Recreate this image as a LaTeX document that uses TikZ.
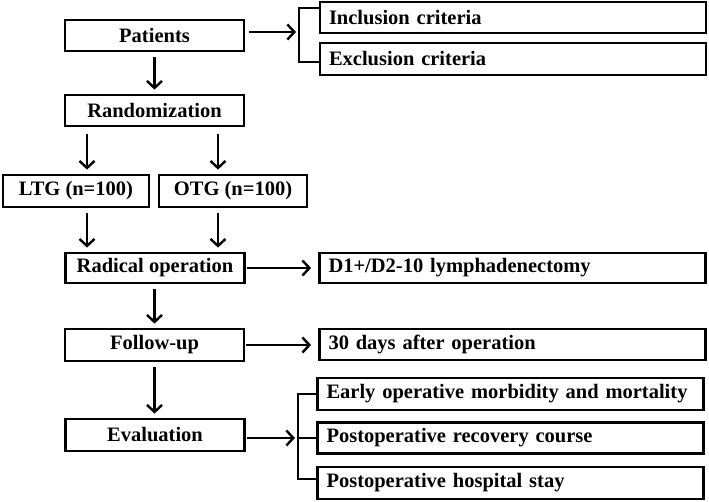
\documentclass[tikz,border=0pt]{standalone}
\usepackage{fontspec}
\setmainfont{Liberation Serif}
\usetikzlibrary{arrows.meta}
\begin{document}
\begin{tikzpicture}[x=1pt,y=-1pt,
  box/.style={draw, line width=2.8pt, inner sep=0pt, minimum width=179pt, minimum height=31pt,
    font=\fontsize{20.5}{24}\selectfont\bfseries},
  rbox/.style={draw, line width=2.8pt, inner xsep=9pt, inner ysep=0pt, text width=368pt, align=left,
    minimum height=31pt, font=\fontsize{20.5}{24}\selectfont\bfseries},
  ln/.style={line width=2.4pt},
  arr/.style={line width=2.4pt, -{Straight Barb[length=7pt 0 0, width=15pt 0 0, line width=2.4pt]}},
  darr/.style={arr, shorten <=5pt, shorten >=4pt}]
\useasboundingbox (0,0) rectangle (709,501);
% main column
\node[box] (pat) at (154.5,35.5) {Patients};
\node[box] (ran) at (154.5,110.5) {Randomization};
\node[box, minimum width=146pt, minimum height=32pt] (ltg) at (76,191) {LTG (n=100)};
\node[box, minimum width=148pt, minimum height=32pt] (otg) at (233,191) {OTG (n=100)};
\node[box, minimum height=30pt] (rad) at (155,268) {Radical operation};
\node[box, minimum height=32pt] (fol) at (154.5,345) {Follow-up};
\node[box, minimum height=32pt] (eva) at (155,435) {Evaluation};
% right column
\node[rbox] (inc) at (513,17.5) {Inclusion criteria};
\node[rbox, minimum height=32pt] (exc) at (513,59) {Exclusion criteria};
\node[rbox, minimum height=30pt] (dly) at (512.5,268) {D1+/D2-10 lymphadenectomy};
\node[rbox] (thd) at (512.5,344.5) {30 days after operation};
\node[rbox, minimum height=32pt] (ear) at (510.5,394) {Early operative morbidity and mortality};
\node[rbox] (prc) at (510.5,438) {Postoperative recovery course};
\node[rbox, minimum height=32pt] (phs) at (510.5,483) {Postoperative hospital stay};
% bracket coordinates
\coordinate (bt) at (299,8);
\coordinate (bb) at (299,62);
\coordinate (bm) at (296,32);
\coordinate (et) at (298,394);
\coordinate (eb) at (298,479);
\coordinate (em) at (295,438);
\coordinate (xl) at (87,0);
\coordinate (xr) at (218,0);
% vertical arrows
\draw[darr] (pat) -- (ran);
\draw[darr, shorten <=7pt] (ran.south -| xl) -- (ltg.north -| xl);
\draw[darr, shorten <=7pt] (ran.south -| xr) -- (otg.north -| xr);
\draw[darr] (ltg.south -| xl) -- (rad.north -| xl);
\draw[darr] (otg.south -| xr) -- (rad.north -| xr);
\draw[darr] (rad.south -| pat) -- (fol.north -| pat);
\draw[darr] (fol.south -| pat) -- (eva.north -| pat);
% horizontal arrows
\draw[arr, shorten <=4pt] (pat.east |- bm) -- (bm);
\draw[arr, shorten <=1pt, shorten >=7pt] (rad.east) -- (dly.west |- rad.east);
\draw[arr, shorten <=1pt, shorten >=7pt] (fol.east) -- (thd.west |- fol.east);
\draw[arr, shorten <=1pt] (eva.east |- em) -- (em);
% brackets
\draw[ln, line join=miter] (inc.west |- bt) -- (bt) -- (bb) -- (exc.west |- bb);
\draw[ln, line join=miter] (ear.west |- et) -- (et) -- (eb) -- (phs.west |- eb);
\draw[ln] (et |- prc.west) -- (prc.west);
\end{tikzpicture}
\end{document}
